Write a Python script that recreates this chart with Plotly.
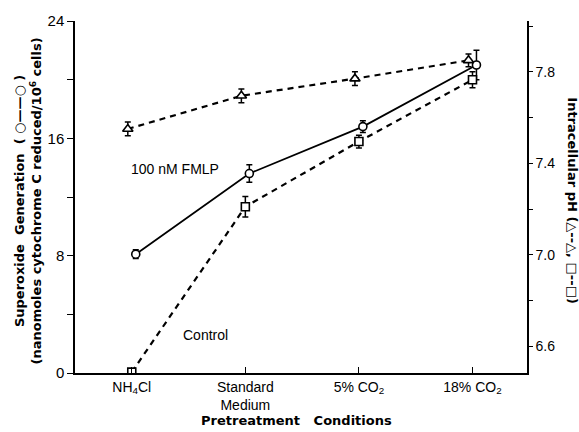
import plotly.graph_objects as go

categories = ["NH<sub>4</sub>Cl", "Standard<br>Medium", "5% CO<sub>2</sub>", "18% CO<sub>2</sub>"]
superoxide = [8.1, 13.6, 16.8, 21.0]
superoxide_err = [0.3, 0.6, 0.4, 1.0]
ph_fmlp = [7.55, 7.695, 7.77, 7.85]
ph_fmlp_err = [0.03, 0.03, 0.03, 0.028]
ph_control = [6.487, 7.21, 7.495, 7.765]
ph_control_err = [0.0, 0.045, 0.028, 0.035]

idx = list(range(len(categories)))
off = 0.035
x_circ = [i + off for i in idx]
x_tri = [i - off for i in idx]
x_sq = idx

FONT = "Liberation Sans, Arial, sans-serif"
TFONT = "DejaVu Sans, sans-serif"

fig = go.Figure()

fig.add_trace(go.Scatter(
    x=x_sq, y=ph_control, yaxis="y2", mode="lines+markers",
    line=dict(color="black", width=2.2, dash="6px,5px"),
    marker=dict(symbol="square", size=8, color="white", line=dict(color="black", width=1.6)),
    error_y=dict(type="data", array=ph_control_err, color="black", thickness=1.5, width=3),
    showlegend=False))

fig.add_trace(go.Scatter(
    x=x_tri, y=ph_fmlp, yaxis="y2", mode="lines+markers",
    line=dict(color="black", width=2.2, dash="6px,5px"),
    marker=dict(symbol="triangle-up", size=9, color="white", line=dict(color="black", width=1.6)),
    error_y=dict(type="data", array=ph_fmlp_err, color="black", thickness=1.5, width=3),
    showlegend=False))

fig.add_trace(go.Scatter(
    x=x_circ, y=superoxide, yaxis="y", mode="lines+markers",
    line=dict(color="black", width=1.8),
    marker=dict(symbol="circle", size=8, color="white", line=dict(color="black", width=1.6)),
    error_y=dict(type="data", array=superoxide_err, color="black", thickness=1.5, width=3),
    showlegend=False))

fig.update_layout(
    width=579, height=432,
    margin=dict(l=75, r=52, t=19, b=59),
    paper_bgcolor="white", plot_bgcolor="white",
    font=dict(family=FONT, color="black", size=14),
    xaxis=dict(
        range=[-0.5, 3.48], tickvals=idx, ticktext=categories,
        showline=True, linecolor="black", linewidth=1.5,
        ticks="inside", ticklen=6, tickwidth=1.3, tickcolor="black",
        showgrid=False, zeroline=False, tickfont=dict(size=14),
    ),
    yaxis=dict(
        range=[0, 24], tickvals=[0, 8, 16, 24],
        showline=True, linecolor="black", linewidth=1.5,
        ticks="outside", ticklen=6, tickwidth=1.3, tickcolor="black",
        minor=dict(dtick=4, ticks="outside", ticklen=6, tickwidth=1.3, tickcolor="black"),
        showgrid=False, zeroline=False, tickfont=dict(size=15),
    ),
    yaxis2=dict(
        range=[6.483, 8.022], overlaying="y", side="right",
        tick0=6.6, dtick=0.4, tickformat=".1f",
        showline=True, linecolor="black", linewidth=1.5,
        ticks="outside", ticklen=4, tickwidth=1.3, tickcolor="black",
        minor=dict(tick0=6.6, dtick=0.2, ticks="outside", ticklen=4, tickwidth=1.3, tickcolor="black"),
        showgrid=False, zeroline=False, tickfont=dict(size=14),
    ),
    annotations=[
        dict(text="<b>Superoxide  Generation  ( ○——○ )</b><br><b>(nanomoles cytochrome C reduced/10<sup>6</sup> cells)</b>",
             xref="paper", yref="paper", x=-0.104, y=0.49, xanchor="center", yanchor="middle",
             textangle=-90, showarrow=False, font=dict(size=13, family=TFONT)),
        dict(text="<b>Intracellular pH (△--△, □--□)</b>",
             xref="paper", yref="paper", x=1.1, y=0.49, xanchor="center", yanchor="middle",
             textangle=90, showarrow=False, font=dict(size=13, family=TFONT)),
        dict(text="<b>Pretreatment   Conditions</b>",
             xref="paper", yref="paper", x=0.49, y=-0.136, xanchor="center", yanchor="middle",
             showarrow=False, font=dict(size=13, family=TFONT)),
        dict(text="100 nM FMLP", xref="x", yref="y", x=0.38, y=13.9,
             xanchor="center", yanchor="middle", showarrow=False, font=dict(size=14)),
        dict(text="Control", xref="x", yref="y", x=0.645, y=2.6,
             xanchor="center", yanchor="middle", showarrow=False, font=dict(size=14)),
    ],
)

fig.write_html("out.html")
